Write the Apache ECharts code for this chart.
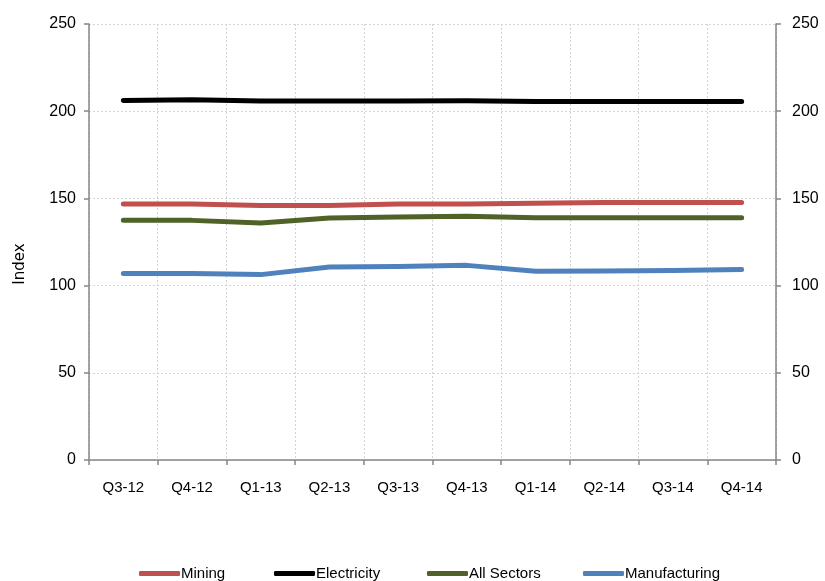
<!DOCTYPE html>
<html>
<head>
<meta charset="utf-8">
<style>
  html, body { margin: 0; padding: 0; background: #fff; }
  #chart { width: 825px; height: 581px; }
</style>
<script src="https://cdn.jsdelivr.net/npm/echarts@6/dist/echarts.min.js"></script>
</head>
<body>
<div id="chart"></div>
<script>
// Quarterly index by sector
const quarters = ['Q3-12', 'Q4-12', 'Q1-13', 'Q2-13', 'Q3-13', 'Q4-13', 'Q1-14', 'Q2-14', 'Q3-14', 'Q4-14'];
const mining = [146.8, 146.8, 145.9, 146.0, 146.8, 146.8, 147.2, 147.6, 147.6, 147.6];
const electricity = [206.2, 206.5, 205.8, 205.9, 205.9, 206.0, 205.5, 205.5, 205.5, 205.5];
const allSectors = [137.4, 137.4, 135.9, 138.8, 139.3, 139.7, 138.9, 138.9, 138.9, 138.9];
const manufacturing = [106.9, 106.9, 106.3, 110.7, 111.0, 111.6, 108.2, 108.4, 108.6, 109.2];
const yTicks = { min: 0, max: 250, step: 50 };

const seriesDefs = [
  { name: 'Mining', data: mining, color: '#C0504D' },
  { name: 'Electricity', data: electricity, color: '#000000' },
  { name: 'All Sectors', data: allSectors, color: '#4F6228' },
  { name: 'Manufacturing', data: manufacturing, color: '#4F81BD' }
];

const labelFont = "'Liberation Sans', Arial, sans-serif";
const axisGrey = '#868686';
const gridGrey = '#d4d4d4';

function valueAxis(pos) {
  return {
    type: 'value',
    position: pos,
    min: yTicks.min,
    max: yTicks.max,
    interval: yTicks.step,
    axisLine: { show: true, lineStyle: { color: axisGrey, width: 1.5 } },
    axisTick: { show: true, length: 5, lineStyle: { color: axisGrey, width: 1.5 } },
    axisLabel: { color: '#000', fontFamily: labelFont, fontSize: 16, margin: pos === 'left' ? 13 : 16 },
    splitLine: { show: pos === 'left', lineStyle: { color: gridGrey, type: [2, 2], width: 1 } }
  };
}

// legend entries are placed individually along the bottom
const legendLefts = [139, 274, 427, 583];

const option = {
  animation: false,
  backgroundColor: '#fff',
  grid: { left: 89, right: 49, top: 24, bottom: 121, containLabel: false },
  xAxis: {
    type: 'category',
    data: quarters,
    boundaryGap: true,
    axisLine: { show: true, lineStyle: { color: axisGrey, width: 1.5 } },
    axisTick: { show: true, length: 5, alignWithLabel: false, lineStyle: { color: axisGrey, width: 1.5 } },
    axisLabel: { color: '#000', fontFamily: labelFont, fontSize: 15, margin: 20, interval: 0 },
    splitLine: { show: true, interval: 0, lineStyle: { color: gridGrey, type: [2, 2], width: 1 } }
  },
  yAxis: [
    Object.assign(valueAxis('left'), {
      name: 'Index',
      nameLocation: 'middle',
      nameGap: 61,
      nameTextStyle: { color: '#000', fontFamily: 'DejaVu Sans, sans-serif', fontSize: 15, padding: [0, 44, 0, 0] }
    }),
    valueAxis('right')
  ],
  legend: seriesDefs.map((s, i) => ({
    data: [s.name],
    left: legendLefts[i],
    top: 566,
    padding: 0,
    icon: 'roundRect',
    itemWidth: 41,
    itemHeight: 5,
    itemGap: 0,
    textStyle: { color: '#000', fontFamily: labelFont, fontSize: 15, padding: [0, 0, 0, -4] }
  })),
  series: seriesDefs.map(s => ({
    name: s.name,
    type: 'line',
    data: s.data,
    yAxisIndex: 0,
    symbol: 'none',
    smooth: false,
    lineStyle: { color: s.color, width: 5, cap: 'round', join: 'round' },
    itemStyle: { color: s.color }
  }))
};

const chart = echarts.init(document.getElementById('chart'), null, { renderer: 'canvas' });
chart.setOption(option);
</script>
</body>
</html>
